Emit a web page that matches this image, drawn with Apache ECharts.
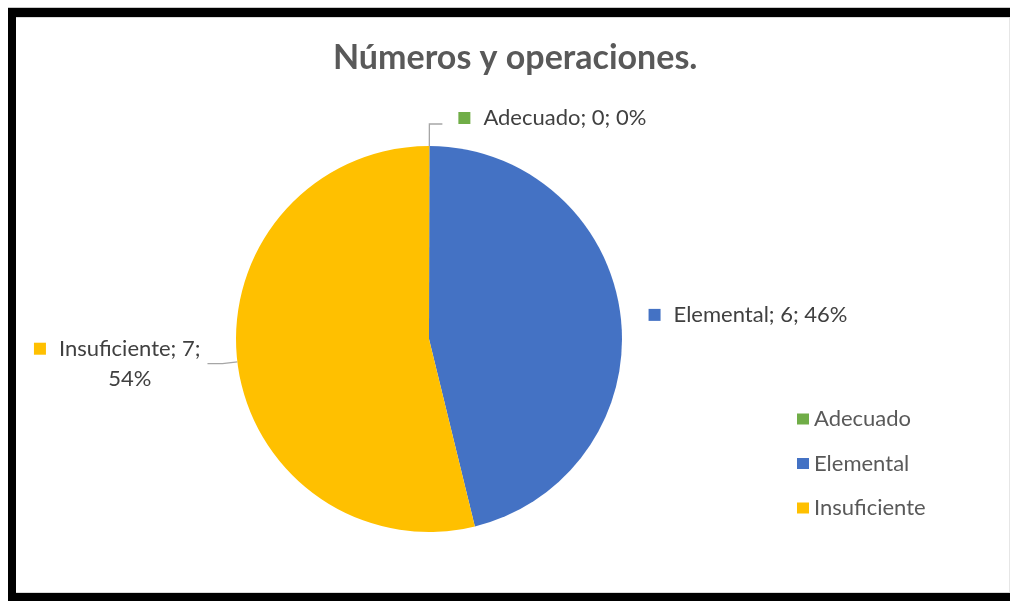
<!DOCTYPE html>
<html><head><meta charset="utf-8">
<script src="https://cdn.jsdelivr.net/npm/echarts@6/dist/echarts.min.js"></script>
<style>html,body{margin:0;padding:0;background:#fff;} #c{width:1010px;height:601px;}</style>
</head><body><div id="c"></div>
<script>
const chartTitle = 'Números y operaciones.';
const categories = ['Adecuado', 'Elemental', 'Insuficiente'];
const values = [0, 6, 7];
const colors = ['#70AD47', '#4472C4', '#FFC000'];

const FONT = 'Lato';
const LABEL_SIZE = 22;
// per-slice label styling (no data here)
const lineCfg = [
  {show: true, length: 22, length2: 13},
  {show: false, length: 10, length2: 13},
  {show: true, length: 15, length2: 15}
];
const labelDist = [16, 5, 7];
const labelPad = [[0, 0, 12, 0], 0, 0];
const wrapPct = [false, false, true];

const rich = {
  sp: {width: 13, align: 'left'},
  sp2: {width: 25, align: 'left'},
  t: {fontSize: LABEL_SIZE, fontFamily: FONT, color: '#404040', align: 'left', lineHeight: 30},
  c: {fontSize: LABEL_SIZE, fontFamily: FONT, color: '#404040', align: 'center', lineHeight: 30}
};
colors.forEach((col, i) => { rich['sq' + i] = {width: 12, height: 12, backgroundColor: col, align: 'left'}; });

const chart = echarts.init(document.getElementById('c'), null, {renderer: 'canvas'});
chart.setOption({
  animation: false,
  backgroundColor: '#ffffff',
  title: {
    text: chartTitle,
    left: 328, top: 36,
    textStyle: {fontFamily: FONT, fontSize: 34, fontWeight: 'bold', color: '#595959'}
  },
  legend: {
    orient: 'vertical',
    left: 797, top: 408,
    padding: 0,
    icon: 'rect',
    itemWidth: 12, itemHeight: 11, itemGap: 22.5,
    selectedMode: false,
    data: categories,
    textStyle: {fontFamily: FONT, fontSize: LABEL_SIZE, color: '#595959', lineHeight: 22}
  },
  graphic: [
    {type: 'rect', shape: {x: 8, y: 7, width: 1002, height: 1}, style: {fill: '#c8c8c8'}},
    {type: 'rect', shape: {x: 8, y: 8, width: 1002, height: 9}, style: {fill: '#000'}},
    {type: 'rect', shape: {x: 16, y: 17, width: 994, height: 1}, style: {fill: '#d9d9d9'}},
    {type: 'rect', shape: {x: 8, y: 8, width: 8, height: 593}, style: {fill: '#000'}},
    {type: 'rect', shape: {x: 16, y: 592, width: 994, height: 1}, style: {fill: '#d9d9d9'}},
    {type: 'rect', shape: {x: 8, y: 593, width: 1002, height: 8}, style: {fill: '#000'}},
    {type: 'rect', shape: {x: 1009, y: 18, width: 1, height: 574}, style: {fill: '#e6e6e6'}}
  ],
  series: [{
    type: 'pie',
    center: [429, 339],
    radius: 193,
    startAngle: 89.9,
    clockwise: true,
    percentPrecision: 0,
    avoidLabelOverlap: false,
    emphasis: {disabled: true},
    labelLine: {lineStyle: {color: '#a6a6a6', width: 1.3}},
    label: {
      show: true,
      position: 'outside',
      rich: rich,
      formatter: function (p) {
        const i = p.dataIndex;
        const head = '{sq' + i + '|}{sp|}';
        if (wrapPct[i]) {
          return head + '{t|' + p.name + '; ' + p.value + ';}\n{sp2|}{c|' + p.percent + '%}';
        }
        return head + '{t|' + p.name + '; ' + p.value + '; ' + p.percent + '%}';
      }
    },
    data: categories.map((name, i) => ({
      name: name,
      value: values[i],
      itemStyle: {color: colors[i]},
      label: {distanceToLabelLine: labelDist[i], padding: labelPad[i]},
      labelLine: lineCfg[i]
    }))
  }]
});
</script>
</body></html>
